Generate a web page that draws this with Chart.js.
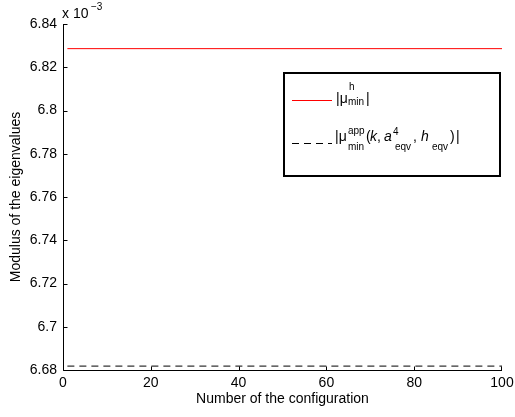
<!DOCTYPE html>
<html>
<head>
<meta charset="utf-8">
<title>Modulus of the eigenvalues</title>
<script src="https://cdn.jsdelivr.net/npm/chart.js@4.4.0/dist/chart.umd.min.js"></script>
<style>
  html, body { margin: 0; padding: 0; background: #fff; }
</style>
</head>
<body>
<canvas id="myChart" width="515" height="417"></canvas>
<script>
// number of the configuration (first and last one, the curves are flat)
var CONFIG = [1, 100];
// |mu_min^h| and |mu_min^app(k, a^4_eqv, h_eqv)|, in units of 1e-3
var MU_H = [6.8286, 6.8286];
var MU_APP = [6.6818, 6.6818];
var X_TICKS = [0, 20, 40, 60, 80, 100];
var Y_TICKS = [6.68, 6.70, 6.72, 6.74, 6.76, 6.78, 6.80, 6.82, 6.84];

var FONT = "'Liberation Sans', Arial, Helvetica, sans-serif";

function pts(xs, ys) {
    var out = [];
    for (var i = 0; i < xs.length; i++) out.push({ x: xs[i], y: ys[i] });
    return out;
}

// pieces of TeX-like text: [text, x, baseline, size, italic]
function drawPieces(ctx, parts) {
    parts.forEach(function(p) {
        ctx.font = (p[4] ? 'italic ' : '') + p[3] + 'px ' + FONT;
        ctx.fillText(p[0], p[1], p[2]);
    });
}

var matlabAxes = {
    id: 'matlabAxes',
    afterDraw: function(chart) {
        var ctx = chart.ctx, a = chart.chartArea;
        var xs = chart.scales.x, ys = chart.scales.y;
        ctx.save();
        ctx.strokeStyle = '#000';
        ctx.lineWidth = 1;
        ctx.setLineDash([]);
        ctx.beginPath();
        var L = Math.round(a.left) + 0.5, B = Math.round(a.bottom) + 0.5;
        ctx.moveTo(L, a.top);
        ctx.lineTo(L, B);
        ctx.lineTo(a.right, B);
        X_TICKS.forEach(function(v) {
            var px = Math.round(xs.getPixelForValue(v)) + 0.5;
            if (px > a.right) px -= 1;
            ctx.moveTo(px, B);
            ctx.lineTo(px, B - 4);
        });
        Y_TICKS.forEach(function(v) {
            var py = Math.round(ys.getPixelForValue(v)) + 0.5;
            ctx.moveTo(L, py);
            ctx.lineTo(L + 4, py);
        });
        ctx.stroke();

        ctx.fillStyle = '#000';
        ctx.textBaseline = 'alphabetic';
        ctx.textAlign = 'left';
        // exponent
        drawPieces(ctx, [['x 10', 62, 18, 14], ['\u22123', 91, 10, 10]]);

        // legend
        ctx.lineWidth = 2;
        ctx.strokeRect(284, 73, 216, 103);
        ctx.lineWidth = 1;
        ctx.strokeStyle = '#ff0000';
        ctx.beginPath();
        ctx.moveTo(292, 100.5);
        ctx.lineTo(332, 100.5);
        ctx.stroke();
        ctx.strokeStyle = '#000';
        ctx.setLineDash([7, 5]);
        ctx.beginPath();
        ctx.moveTo(292, 143.5);
        ctx.lineTo(332, 143.5);
        ctx.stroke();
        ctx.setLineDash([]);

        drawPieces(ctx, [
            ['|\u03bc', 336, 103, 14],
            ['h', 349, 90, 10],
            ['min', 348, 105, 10],
            ['|', 366, 103, 14]
        ]);
        drawPieces(ctx, [
            ['|\u03bc', 335, 141, 14],
            ['app', 348, 134, 10],
            ['min', 348, 150, 10],
            ['(', 366, 141, 14],
            ['k', 370, 141, 14, true],
            [',', 377, 141, 14],
            ['a', 384, 141, 14, true],
            ['4', 393, 135, 10],
            ['eqv', 395, 150, 10],
            [',', 413, 141, 14],
            ['h', 421, 141, 14, true],
            ['eqv', 432, 150, 10],
            [')', 450, 141, 14],
            ['|', 456, 141, 14]
        ]);
        ctx.restore();
    }
};

var ctx = document.getElementById('myChart').getContext('2d');
var chart = new Chart(ctx, {
    type: 'line',
    data: {
        datasets: [{
            label: '|\u03bc min h|',
            data: pts(CONFIG, MU_H),
            borderColor: '#ff0000',
            borderWidth: 1,
            pointRadius: 0,
            fill: false
        }, {
            label: '|\u03bc min app|',
            data: pts(CONFIG, MU_APP),
            borderColor: '#000000',
            borderWidth: 1,
            borderDash: [7, 5],
            pointRadius: 0,
            fill: false
        }]
    },
    plugins: [matlabAxes],
    options: {
        responsive: false,
        animation: false,
        layout: { padding: { left: 0, top: 24, right: 13, bottom: 0 } },
        plugins: {
            legend: { display: false },
            tooltip: { enabled: false }
        },
        scales: {
            x: {
                type: 'linear',
                min: 0,
                max: 100,
                afterBuildTicks: function(s) { s.ticks = X_TICKS.map(function(v) { return { value: v }; }); },
                afterFit: function(s) { s.height = 47; s.paddingLeft = 0; s.paddingRight = 0; },
                grid: { display: false, drawTicks: false },
                border: { display: false },
                ticks: {
                    color: '#000',
                    padding: 5,
                    maxRotation: 0,
                    font: { family: FONT, size: 14 }
                },
                title: {
                    display: true,
                    text: 'Number of the configuration',
                    color: '#000',
                    font: { family: FONT, size: 14 },
                    padding: { top: 0, bottom: 9 }
                }
            },
            y: {
                type: 'linear',
                min: 6.68,
                max: 6.84,
                afterBuildTicks: function(s) { s.ticks = Y_TICKS.map(function(v) { return { value: v }; }); },
                afterFit: function(s) { s.width = 63; s.paddingTop = 0; s.paddingBottom = 0; },
                grid: { display: false, drawTicks: false },
                border: { display: false },
                ticks: {
                    color: '#000',
                    padding: 6,
                    font: { family: FONT, size: 14 },
                    callback: function(v) { return String(parseFloat(Number(v).toFixed(2))); }
                },
                title: {
                    display: true,
                    text: 'Modulus of the eigenvalues',
                    color: '#000',
                    font: { family: FONT, size: 14 },
                    padding: { top: 8, bottom: 0 }
                }
            }
        }
    }
});
</script>
</body>
</html>
